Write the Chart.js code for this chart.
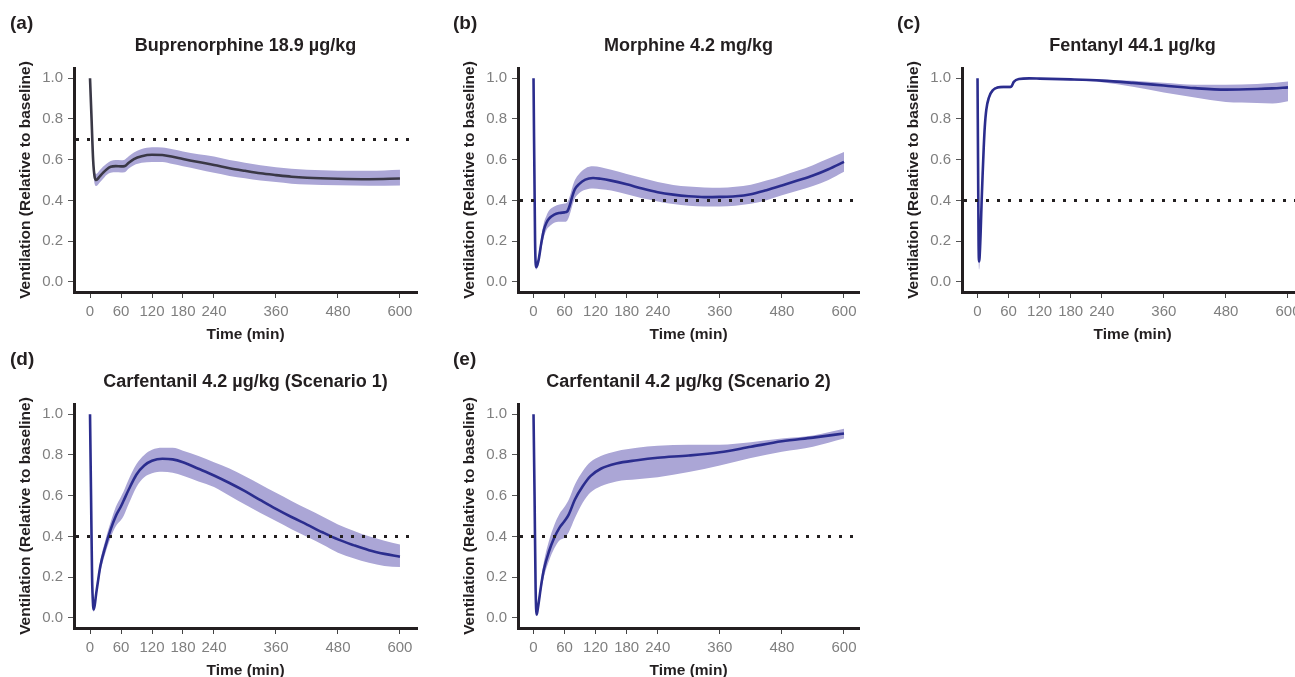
<!DOCTYPE html>
<html><head><meta charset="utf-8">
<script src="https://cdn.jsdelivr.net/npm/chart.js@4.4.1/dist/chart.umd.min.js"></script>
<style>
html,body{margin:0;padding:0;background:#fff;width:1295px;height:677px;overflow:hidden;position:relative;font-family:'Liberation Sans',Arial,sans-serif;}
canvas{position:absolute;}
.lbl{position:absolute;font-weight:bold;font-size:19px;color:#231f20;line-height:22px;}
.ttl{position:absolute;font-weight:bold;font-size:18px;color:#231f20;line-height:22px;text-align:center;white-space:nowrap;}
</style></head><body>
<script>
// ---- tick labels ----
const xTickValues = [0, 60, 120, 180, 240, 360, 480, 600];
const yTickValues = [0, 0.2, 0.4, 0.6, 0.8, 1.0];

// ---- (a) Buprenorphine 18.9 ug/kg ----
const timeA = [0,3,6,9,12,18,25,32,40,50,60,67,75,85,100,120,140,160,180,210,240,270,300,330,360,390,420,480,540,600];
const meanA = [1.0,0.80,0.60,0.515,0.50,0.515,0.535,0.552,0.565,0.568,0.567,0.568,0.585,0.603,0.617,0.624,0.623,0.614,0.603,0.588,0.574,0.558,0.545,0.533,0.524,0.516,0.511,0.506,0.504,0.507];
const lowA  = [1.0,0.78,0.57,0.48,0.47,0.485,0.505,0.525,0.535,0.538,0.537,0.538,0.556,0.573,0.585,0.589,0.588,0.578,0.567,0.552,0.535,0.52,0.508,0.497,0.49,0.482,0.478,0.474,0.472,0.473];
const upA   = [1.0,0.82,0.62,0.545,0.53,0.545,0.565,0.58,0.593,0.598,0.597,0.60,0.617,0.635,0.652,0.661,0.660,0.651,0.640,0.626,0.615,0.598,0.585,0.572,0.562,0.555,0.550,0.546,0.545,0.550];

// ---- (b) Morphine 4.2 mg/kg ----
const timeB = [0,3,5,7,10,15,20,25,30,40,50,60,65,70,75,80,88,100,115,130,150,180,210,240,270,300,330,360,390,420,450,480,510,540,570,600];
const meanB = [1.0,0.20,0.072,0.08,0.11,0.19,0.255,0.29,0.31,0.33,0.338,0.341,0.345,0.375,0.42,0.455,0.48,0.502,0.51,0.506,0.497,0.479,0.458,0.44,0.428,0.42,0.416,0.417,0.42,0.43,0.45,0.473,0.497,0.522,0.553,0.589];
const lowB  = [1.0,0.17,0.06,0.065,0.09,0.16,0.22,0.255,0.27,0.29,0.295,0.295,0.30,0.33,0.375,0.41,0.435,0.452,0.458,0.455,0.448,0.43,0.41,0.395,0.382,0.374,0.37,0.37,0.374,0.383,0.40,0.425,0.447,0.47,0.50,0.54];
const upB   = [1.0,0.23,0.085,0.095,0.13,0.22,0.29,0.325,0.35,0.37,0.38,0.385,0.39,0.42,0.465,0.50,0.53,0.557,0.567,0.562,0.55,0.53,0.51,0.49,0.476,0.468,0.463,0.462,0.467,0.477,0.497,0.52,0.545,0.573,0.605,0.637];

// ---- (c) Fentanyl 44.1 ug/kg ----
const timeC = [0,1,2,3,4,6,8,10,12,14,17,22,30,40,50,60,65,70,80,100,120,180,240,300,360,420,480,540,570,600];
const meanC = [1.0,0.60,0.20,0.10,0.12,0.24,0.40,0.535,0.66,0.76,0.846,0.905,0.942,0.955,0.957,0.957,0.958,0.982,0.996,0.999,0.998,0.994,0.988,0.977,0.964,0.951,0.944,0.947,0.950,0.955];
const lowC  = [1.0,0.55,0.14,0.06,0.08,0.20,0.36,0.50,0.63,0.74,0.83,0.895,0.935,0.948,0.95,0.95,0.951,0.977,0.992,0.996,0.995,0.99,0.98,0.958,0.93,0.905,0.883,0.878,0.876,0.887];
const upC   = [1.0,0.65,0.26,0.14,0.16,0.28,0.44,0.57,0.69,0.78,0.86,0.915,0.949,0.962,0.964,0.964,0.965,0.987,1.0,1.002,1.001,0.997,0.992,0.987,0.977,0.968,0.968,0.972,0.976,0.984];

// ---- (d) Carfentanil 4.2 ug/kg (Scenario 1) ----
const timeD = [0,2,4,6,7,9,12,15,20,30,40,50,60,65,75,90,105,120,140,160,180,210,240,270,300,330,360,390,420,450,480,510,540,570,600];
const meanD = [1.0,0.60,0.20,0.06,0.041,0.06,0.12,0.172,0.254,0.352,0.434,0.50,0.548,0.575,0.63,0.704,0.748,0.771,0.781,0.778,0.764,0.732,0.699,0.662,0.622,0.578,0.535,0.495,0.458,0.42,0.385,0.357,0.332,0.314,0.30];
const lowD  = [1.0,0.58,0.18,0.045,0.03,0.045,0.10,0.15,0.225,0.32,0.395,0.45,0.48,0.50,0.56,0.643,0.69,0.71,0.717,0.712,0.698,0.67,0.643,0.60,0.557,0.515,0.475,0.435,0.398,0.36,0.32,0.293,0.27,0.255,0.249];
const upD   = [1.0,0.62,0.22,0.075,0.055,0.075,0.14,0.195,0.28,0.385,0.47,0.545,0.595,0.62,0.68,0.755,0.80,0.825,0.835,0.835,0.82,0.795,0.764,0.733,0.695,0.655,0.614,0.574,0.535,0.497,0.458,0.428,0.40,0.378,0.36];

// ---- (e) Carfentanil 4.2 ug/kg (Scenario 2) ----
const timeE = [0,2,4,6,8,10,15,20,30,40,50,60,68,80,95,110,130,160,200,240,300,360,420,480,540,600];
const meanE = [1.0,0.60,0.15,0.016,0.04,0.074,0.164,0.237,0.327,0.393,0.442,0.475,0.507,0.581,0.646,0.696,0.732,0.758,0.774,0.786,0.797,0.813,0.84,0.867,0.885,0.905];
const lowE  = [1.0,0.58,0.13,0.008,0.025,0.055,0.135,0.20,0.28,0.34,0.38,0.395,0.42,0.49,0.565,0.615,0.646,0.67,0.68,0.69,0.716,0.748,0.785,0.815,0.84,0.88];
const upE   = [1.0,0.62,0.17,0.03,0.06,0.095,0.195,0.275,0.38,0.455,0.51,0.545,0.58,0.655,0.72,0.765,0.795,0.818,0.835,0.845,0.85,0.85,0.862,0.88,0.895,0.928];

// ---- reference (threshold) levels ----
const refLevels = [0.7, 0.4, 0.4, 0.4, 0.4];
const panelLetters = ['(a)','(b)','(c)','(d)','(e)'];
const panelTitles = ['Buprenorphine 18.9 \u00b5g/kg','Morphine 4.2 mg/kg','Fentanyl 44.1 \u00b5g/kg','Carfentanil 4.2 \u00b5g/kg (Scenario 1)','Carfentanil 4.2 \u00b5g/kg (Scenario 2)'];

const FONT = "'Liberation Sans', Arial, Helvetica, sans-serif";
const NAVY = '#2b2d8e';
const DARK = '#3a3846';
const BAND = '#aba6d6';
const AXIS = '#231f20';

const panels = [
  {t:timeA,m:meanA,lo:lowA,hi:upA,color:DARK,left:0,top:0,padR:13,xMin:-31,xMax:633},
  {t:timeB,m:meanB,lo:lowB,hi:upB,color:NAVY,left:444,top:0,padR:15,xMin:-30,xMax:629},
  {t:timeC,m:meanC,lo:lowC,hi:upC,color:NAVY,left:888,top:0,padR:15,xMin:-30,xMax:629},
  {t:timeD,m:meanD,lo:lowD,hi:upD,color:NAVY,left:0,top:336,padR:13,xMin:-31,xMax:633},
  {t:timeE,m:meanE,lo:lowE,hi:upE,color:NAVY,left:444,top:336,padR:15,xMin:-30,xMax:629}
];

const refLine = {
  id:'refLine',
  afterDatasetsDraw(chart, args, opts){
    const {ctx, chartArea:a, scales:{y}} = chart;
    const py = Math.round(y.getPixelForValue(opts.level)) + 0.5;
    ctx.save();
    ctx.strokeStyle = AXIS; ctx.lineWidth = 3; ctx.setLineDash([3,8]);
    ctx.beginPath(); ctx.moveTo(a.left + 2, py); ctx.lineTo(a.right, py); ctx.stroke();
    ctx.restore();
  }
};

const CW = 430, CH = 360, YW = 74, XH = 68, PT = 68;

panels.forEach((p, i) => {
  const cv = document.createElement('canvas');
  cv.width = CW; cv.height = CH;
  cv.style.left = p.left + 'px'; cv.style.top = p.top + 'px';
  cv.style.width = CW + 'px'; cv.style.height = CH + 'px';
  document.body.appendChild(cv);

  const areaL = p.left + YW, areaR = p.left + CW - p.padR;
  const lbl = document.createElement('div');
  lbl.className = 'lbl'; lbl.textContent = panelLetters[i];
  lbl.style.left = (p.left + (p.left ? 9 : 10)) + 'px'; lbl.style.top = (p.top + 12) + 'px';
  document.body.appendChild(lbl);
  const ttl = document.createElement('div');
  ttl.className = 'ttl'; ttl.textContent = panelTitles[i];
  ttl.style.left = areaL + 'px'; ttl.style.width = (areaR - areaL) + 'px'; ttl.style.top = (p.top + 34) + 'px';
  document.body.appendChild(ttl);

  const pts = ys => p.t.map((t, k) => ({x:t, y:ys[k]}));
  new Chart(cv, {
    type:'line',
    data:{datasets:[
      {data:pts(p.m), borderColor:p.color, borderWidth:2.6, pointRadius:0, fill:false, cubicInterpolationMode:'monotone'},
      {data:pts(p.lo), borderWidth:0, borderColor:'rgba(0,0,0,0)', pointRadius:0, fill:false, cubicInterpolationMode:'monotone'},
      {data:pts(p.hi), borderWidth:0, borderColor:'rgba(0,0,0,0)', pointRadius:0, fill:'-1', backgroundColor:BAND, cubicInterpolationMode:'monotone'}
    ]},
    options:{
      responsive:false, animation:false, devicePixelRatio:1,
      layout:{padding:{left:0, right:p.padR, top:PT, bottom:0}},
      plugins:{legend:{display:false}, tooltip:{enabled:false}, title:{display:false}, refLine:{level:refLevels[i]}},
      scales:{
        x:{type:'linear', min:p.xMin, max:p.xMax,
          afterBuildTicks:s => { s.ticks = xTickValues.map(v => ({value:v})); },
          afterFit:s => { s.height = XH; },
          ticks:{color:'#7f7f7f', font:{family:FONT, size:15}, padding:5, maxRotation:0, autoSkip:false, callback:v => String(v)},
          grid:{display:true, drawOnChartArea:false, drawTicks:true, tickLength:6, tickColor:'#444', tickWidth:1},
          border:{display:true, color:AXIS, width:3},
          title:{display:true, text:'Time (min)', color:AXIS, font:{family:FONT, size:15.5, weight:'bold'}, padding:{top:0, bottom:16}}
        },
        y:{type:'linear', min:-0.05, max:1.05,
          afterBuildTicks:s => { s.ticks = yTickValues.map(v => ({value:v})); },
          afterFit:s => { s.width = YW; },
          ticks:{color:'#7f7f7f', font:{family:FONT, size:15}, padding:5, callback:v => Number(v).toFixed(1)},
          grid:{display:true, drawOnChartArea:false, drawTicks:true, tickLength:6, tickColor:'#555', tickWidth:1},
          border:{display:true, color:AXIS, width:3},
          title:{display:true, text:'Ventilation (Relative to baseline)', color:AXIS, font:{family:FONT, size:15.5, weight:'bold'}, padding:{top:16, bottom:0}}
        }
      }
    },
    plugins:[refLine]
  });
});
</script>
</body></html>
